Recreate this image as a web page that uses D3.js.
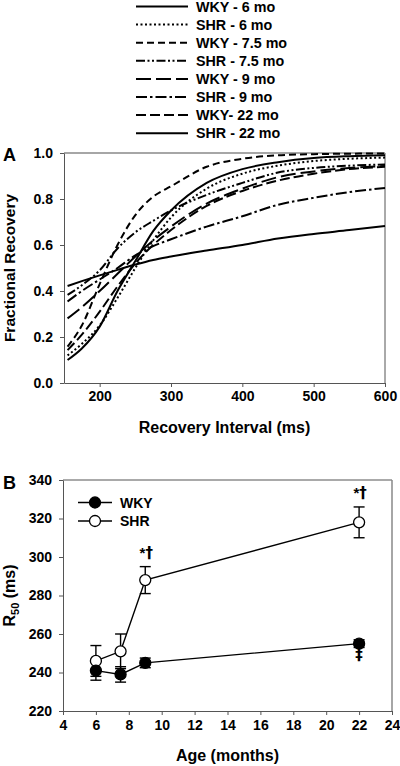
<!DOCTYPE html>
<html><head><meta charset="utf-8">
<script src="https://cdn.jsdelivr.net/npm/d3@7"></script>
<style>
html,body{margin:0;padding:0;background:#fff;}
svg{display:block;font-family:"Liberation Sans",Arial,sans-serif;font-weight:bold;}
</style></head>
<body>
<svg id="chart" width="400" height="766"></svg>
<script>
// ---------- Panel A data ----------
const recoveryT = [155, 175, 200, 225, 250, 275, 300, 350, 400, 450, 500, 550, 600];
const seriesNames = ["WKY - 6 mo","SHR - 6 mo","WKY - 7.5 mo","SHR - 7.5 mo","WKY - 9 mo","SHR - 9 mo","WKY- 22 mo","SHR - 22 mo"];
const wky6  = [0.422,0.443,0.468,0.492,0.515,0.535,0.550,0.576,0.600,0.628,0.648,0.665,0.683];
const shr6  = [0.120,0.170,0.250,0.370,0.500,0.620,0.720,0.845,0.910,0.945,0.965,0.975,0.980];
const wky75 = [0.158,0.250,0.430,0.600,0.730,0.810,0.855,0.940,0.975,0.990,0.995,0.997,0.998];
const shr75 = [0.383,0.425,0.490,0.585,0.655,0.705,0.750,0.818,0.870,0.915,0.935,0.945,0.950];
const wky9  = [0.281,0.330,0.400,0.475,0.550,0.620,0.680,0.780,0.845,0.895,0.920,0.935,0.943];
const shr9  = [0.354,0.400,0.450,0.500,0.555,0.595,0.625,0.680,0.725,0.775,0.805,0.830,0.848];
const wky22 = [0.143,0.210,0.310,0.420,0.520,0.600,0.665,0.770,0.835,0.880,0.910,0.930,0.940];
const shr22 = [0.100,0.150,0.245,0.400,0.530,0.660,0.750,0.870,0.930,0.960,0.978,0.986,0.990];
const seriesValues = [wky6, shr6, wky75, shr75, wky9, shr9, wky22, shr22];
const seriesDash = ["", "2,2.5", "7,4", "9,2.5,2,2.5,2,2.5", "15,5", "11,3,2.5,3", "10,4", ""];
const xTicksA = [200, 300, 400, 500, 600];
const yTicksA = [0.0, 0.2, 0.4, 0.6, 0.8, 1.0];

// ---------- Panel B data ----------
const ages = [6, 7.5, 9, 22];
const wkyR50 = [241, 239, 245, 255];
const wkyErr = [5, 4, 2.5, 2];
const shrR50 = [246, 251, 288, 318];
const shrErr = [8, 9, 7, 8];
const sigAges = [9, 22];            // "*†" above SHR
const ddaggerAges = [22];           // "‡" below WKY
const xTicksB = [4, 6, 8, 10, 12, 14, 16, 18, 20, 22, 24];
const yTicksB = [220, 240, 260, 280, 300, 320, 340];

const svg = d3.select("#chart");
const frameCol = "#555";
const symFont = '"DejaVu Sans","Liberation Serif",serif';

// ================= Panel A =================
const A = {l: 64, r: 385, t: 153, b: 383};
const xA = d3.scaleLinear().domain([150, 600]).range([A.l, A.r]);
const yA = d3.scaleLinear().domain([0, 1]).range([A.b, A.t]);

// legend
const legA = svg.append("g");
seriesNames.forEach((n, i) => {
  const yy = 6.5 + i * 18.1;
  legA.append("line").attr("x1", 136).attr("x2", 188).attr("y1", yy).attr("y2", yy)
    .attr("stroke", "#000").attr("stroke-width", 2).attr("stroke-dasharray", seriesDash[i] || null);
  legA.append("text").attr("x", 196).attr("y", yy + 5).attr("font-size", 14.3).text(n);
});

// frame
svg.append("line").attr("x1", A.l).attr("x2", A.r).attr("y1", A.t).attr("y2", A.t).attr("stroke", "#888").attr("stroke-width", 1.5);
svg.append("line").attr("x1", A.r).attr("x2", A.r).attr("y1", A.t).attr("y2", A.b).attr("stroke", frameCol).attr("stroke-width", 1);

const gxA = svg.append("g").attr("transform", `translate(0,${A.b})`)
  .call(d3.axisBottom(xA).tickValues(xTicksA).tickSize(4).tickSizeOuter(0).tickPadding(4));
const gyA = svg.append("g").attr("transform", `translate(${A.l},0)`)
  .call(d3.axisLeft(yA).tickValues(yTicksA).tickFormat(d3.format(".1f")).tickSize(4).tickSizeOuter(0).tickPadding(7));
[gxA, gyA].forEach(g => {
  g.select(".domain").attr("stroke", frameCol);
  g.selectAll(".tick line").attr("stroke", frameCol);
  g.selectAll("text").attr("font-size", 14).attr("font-weight", "bold").attr("fill", "#000")
    .attr("font-family", '"Liberation Sans",Arial,sans-serif');
});

const lineA = d3.line().x((d, i) => xA(recoveryT[i])).y(d => yA(d)).curve(d3.curveMonotoneX);
seriesValues.forEach((vals, i) => {
  svg.append("path").attr("d", lineA(vals)).attr("fill", "none").attr("stroke", "#000")
    .attr("stroke-width", 2).attr("stroke-dasharray", seriesDash[i] || null);
});

svg.append("text").attr("x", 3).attr("y", 161).attr("font-size", 18).text("A");
svg.append("text").attr("transform", `translate(15,${(A.t + A.b) / 2}) rotate(-90)`)
  .attr("text-anchor", "middle").attr("font-size", 15.5).text("Fractional Recovery");
svg.append("text").attr("x", (A.l + A.r) / 2).attr("y", 433).attr("text-anchor", "middle")
  .attr("font-size", 16).text("Recovery Interval (ms)");

// ================= Panel B =================
const B = {l: 63, r: 392, t: 480, b: 711};
const xB = d3.scaleLinear().domain([4, 24]).range([B.l, B.r]);
const yB = d3.scaleLinear().domain([220, 340]).range([B.b, B.t]);

svg.append("line").attr("x1", B.l).attr("x2", B.r).attr("y1", B.t).attr("y2", B.t).attr("stroke", frameCol);
svg.append("line").attr("x1", B.r).attr("x2", B.r).attr("y1", B.t).attr("y2", B.b).attr("stroke", "#888").attr("stroke-width", 1.5);

const gxB = svg.append("g").attr("transform", `translate(0,${B.b})`)
  .call(d3.axisBottom(xB).tickValues(xTicksB).tickSize(4).tickSizeOuter(0).tickPadding(5));
const gyB = svg.append("g").attr("transform", `translate(${B.l},0)`)
  .call(d3.axisLeft(yB).tickValues(yTicksB).tickSize(4).tickSizeOuter(0).tickPadding(7));
[gxB, gyB].forEach(g => {
  g.select(".domain").attr("stroke", frameCol);
  g.selectAll(".tick line").attr("stroke", frameCol);
  g.selectAll("text").attr("font-size", 14).attr("font-weight", "bold").attr("fill", "#000")
    .attr("font-family", '"Liberation Sans",Arial,sans-serif');
});

const lineB = d3.line().x((d, i) => xB(ages[i])).y(d => yB(d));
function drawSeries(vals, errs) {
  svg.append("path").attr("d", lineB(vals)).attr("fill", "none").attr("stroke", "#000").attr("stroke-width", 1.4);
  vals.forEach((v, i) => {
    const x = xB(ages[i]), y1 = yB(v - errs[i]), y2 = yB(v + errs[i]);
    svg.append("line").attr("x1", x).attr("x2", x).attr("y1", y1).attr("y2", y2).attr("stroke", "#000").attr("stroke-width", 1.4);
    [y1, y2].forEach(yy => svg.append("line").attr("x1", x - 5.5).attr("x2", x + 5.5).attr("y1", yy).attr("y2", yy)
      .attr("stroke", "#000").attr("stroke-width", 1.4));
  });
}
drawSeries(shrR50, shrErr);
drawSeries(wkyR50, wkyErr);
function drawMarkers(vals, fill) {
  vals.forEach((v, i) => svg.append("circle").attr("cx", xB(ages[i])).attr("cy", yB(v)).attr("r", 5.5)
    .attr("fill", fill).attr("stroke", "#000").attr("stroke-width", 1.3));
}
drawMarkers(shrR50, "#fff");
drawMarkers(wkyR50, "#000");

sigAges.forEach(a => {
  const i = ages.indexOf(a);
  const t = svg.append("text").attr("x", xB(a) + 1).attr("y", yB(shrR50[i] + shrErr[i]) - 9)
    .attr("text-anchor", "middle").attr("font-size", 15).attr("fill", "#000");
  t.append("tspan").text("*");
  t.append("tspan").attr("font-family", symFont).attr("font-weight", "bold").attr("fill", "#000").text("\u2020\uFE0E");
});
ddaggerAges.forEach(a => {
  const i = ages.indexOf(a);
  svg.append("text").attr("x", xB(a)).attr("y", yB(wkyR50[i] - wkyErr[i]) + 13)
    .attr("text-anchor", "middle").attr("font-size", 15).attr("fill", "#000")
    .attr("font-family", symFont).text("\u2021\uFE0E");
});

// legend B
[["WKY", "#000"], ["SHR", "#fff"]].forEach(([n, f], i) => {
  const yy = 502.5 + i * 18.5;
  svg.append("line").attr("x1", 78).attr("x2", 112).attr("y1", yy).attr("y2", yy).attr("stroke", "#000").attr("stroke-width", 1.4);
  svg.append("circle").attr("cx", 95).attr("cy", yy).attr("r", 5.5).attr("fill", f).attr("stroke", "#000").attr("stroke-width", 1.3);
  svg.append("text").attr("x", 120).attr("y", yy + 5).attr("font-size", 14).text(n);
});

svg.append("text").attr("x", 3).attr("y", 489).attr("font-size", 18).text("B");
const r50 = svg.append("text").attr("transform", `translate(15,${(B.t + B.b) / 2}) rotate(-90)`)
  .attr("text-anchor", "middle").attr("font-size", 16);
r50.append("tspan").text("R");
r50.append("tspan").attr("font-size", 11).attr("dy", 4).text("50");
r50.append("tspan").attr("dy", -4).text(" (ms)");
svg.append("text").attr("x", (B.l + B.r) / 2).attr("y", 761).attr("text-anchor", "middle")
  .attr("font-size", 16).text("Age (months)");
</script>
</body></html>
